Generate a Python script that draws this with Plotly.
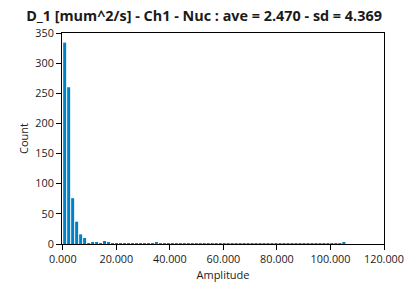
import plotly.graph_objects as go

bin_start = 0.7
bin_width = 1.49
counts = [334, 260, 76, 37, 16, 10, 1, 3, 2, 1, 5, 3, 1, 1, 1, 1, 1, 1, 1, 1,
          1, 1, 1, 3, 1, 1, 1, 1, 1, 1, 1, 1, 1, 1, 1, 1, 1, 1, 1, 1,
          1, 1, 1, 1, 1, 1, 1, 1, 1, 1, 1, 1, 1, 1, 1, 1, 1, 1, 1, 1,
          1, 1, 1, 1, 1, 1, 1, 1, 1, 1, 3]
centers = [bin_start + bin_width * i for i in range(len(counts))]

x_ticks = [0, 20, 40, 60, 80, 100, 120]
x_tick_labels = ["0.000", "20.000", "40.000", "60.000", "80.000", "100.000", "120.000"]
y_ticks = [0, 50, 100, 150, 200, 250, 300, 350]

title = "D_1 [mum^2/s] - Ch1 - Nuc : ave = 2.470 - sd = 4.369"

fig = go.Figure(go.Bar(x=centers, y=counts, width=bin_width * 0.75,
                       marker=dict(color="#0080c6", line=dict(width=0))))

font = "Open Sans, Noto Sans, sans-serif"
fig.update_layout(
    width=408, height=287,
    margin=dict(l=62, r=24, t=33, b=43, autoexpand=False),
    paper_bgcolor="white", plot_bgcolor="white",
    title=dict(text="<b>" + title + "</b>", x=0.5, xanchor="center",
               y=1 - 16 / 287, yanchor="middle",
               font=dict(family=font, size=14.4, color="#1a1a1a")),
    showlegend=False,
    font=dict(family=font, size=11, color="#1a1a1a"),
)
fig.update_xaxes(range=[-0.3, 120], tickvals=x_ticks, ticktext=x_tick_labels,
                 ticks="outside", ticklen=5, tickcolor="black",
                 showline=True, linecolor="black", linewidth=1, mirror=True,
                 showgrid=False, zeroline=False, automargin=False,
                 title=dict(text="Amplitude", standoff=6, font=dict(size=11)),
                 tickfont=dict(size=10.8))
fig.update_yaxes(range=[0, 350], tickvals=y_ticks,
                 ticks="outside", ticklen=5, tickcolor="black",
                 showline=True, linecolor="black", linewidth=1, mirror=True,
                 showgrid=False, zeroline=False, automargin=False,
                 title=dict(text="Count", standoff=4, font=dict(size=11)),
                 tickfont=dict(size=10.8))

fig.write_html("out.html")
